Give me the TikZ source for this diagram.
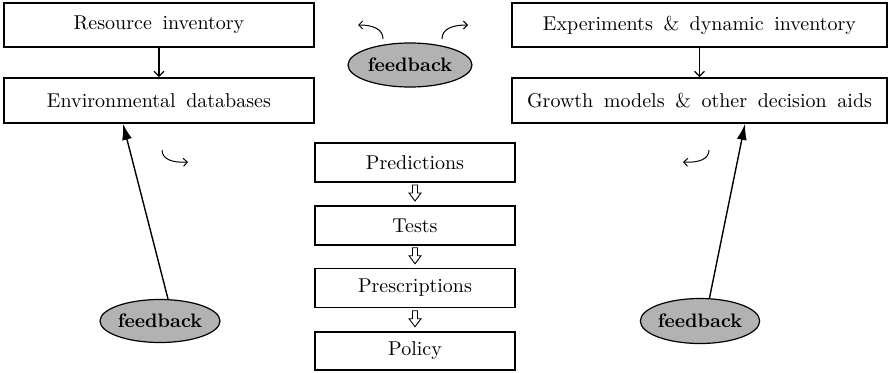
\documentclass[tikz,border=0pt]{standalone}
\usepackage{fontspec}
\setmainfont{lmroman10-regular.otf}[BoldFont=lmroman10-bold.otf,WordSpace=1.6]
\usepackage{tikz}
\usetikzlibrary{calc,positioning,arrows.meta,shapes.geometric}
\tikzstyle{line} = [line width=1.2pt]
\tikzstyle{line>} = [line,-{Straight Barb[length=5pt,width=10pt]}]
\tikzstyle{fb line>} = [line width=1.4pt,-{Latex[length=16pt,width=10pt]}]
\tikzstyle{small>} = [line width=1pt,-{Straight Barb[length=4pt,width=8pt]}]
\tikzstyle{box} = [draw,line width=1.7pt,inner sep=0pt,font=\fontsize{20}{23}\selectfont]
\tikzstyle{feedback} = [draw,ellipse,line width=1.2pt,fill=black!30,inner sep=0pt,font=\fontsize{19.5}{22}\selectfont\bfseries]
\tikzstyle{hollow} = [draw,line width=0.9pt,fill=white,line join=miter]

\begin{document}
\begin{tikzpicture}[x=1pt,y=-1pt]
        \useasboundingbox (0,0) rectangle (890,372);
        % top row of boxes
        \node[box,minimum width=310pt,minimum height=44pt] (res) at (159,25) {Resource inventory};
        \node[box,minimum width=310pt,minimum height=45pt] (env) at (159,100.5) {Environmental databases};
        \node[box,minimum width=375pt,minimum height=44pt] (exp) at (699.5,25) {Experiments \& dynamic inventory};
        \node[box,minimum width=375pt,minimum height=45pt] (growth) at (699.5,100.5) {Growth models \& other decision aids};
        \draw[line>] (res) -- (env);
        \draw[line>] (exp) -- (growth);

        % middle column
        \node[box,minimum width=200pt,minimum height=39pt] (pred) at (415,162.5) {Predictions};
        \node[box,minimum width=200pt,minimum height=39pt] (tests) at (415,225.5) {Tests};
        \node[box,minimum width=200pt,minimum height=39pt] (presc) at (415,288) {Prescriptions};
        \node[box,minimum width=200pt,minimum height=38pt] (policy) at (415,351) {Policy};
        % hollow arrows between them
        \foreach \a/\b in {pred/tests,tests/presc,presc/policy} {
        	\draw[hollow] ($(\a.south)!0.5!(\b.north)$) ++(-2.5,-9) -- ++(0,8) -- ++(-3.5,0) -- ++(6,8)
        	  -- ++(6,-8) -- ++(-3.5,0) -- ++(0,-8) -- cycle;
        }

        % feedback ellipses
        \node[feedback,minimum width=124pt,minimum height=44pt] (fbtop) at (410,65) {feedback};
        \node[feedback,minimum width=120pt,minimum height=43pt] (fbleft) at (160,321) {feedback};
        \node[feedback,minimum width=117pt,minimum height=45pt] (fbright) at (700,321) {feedback};
        \draw[fb line>] ([xshift=8pt]fbleft.north) -- ([xshift=-36pt]env.south);
        \draw[fb line>] ([xshift=9.5pt]fbright.north) -- ([xshift=45.5pt]growth.south);

        % small curved arrows
        \coordinate (tl) at (383,39);
        \coordinate (tr) at (442,39);
        \coordinate (ml) at (162,150);
        \coordinate (mr) at (709,150);
        \draw[small>] (tl) .. controls (383,29) and (373,25) .. (358,25);
        \draw[small>] (tr) .. controls (442,29) and (452,25) .. (468,25);
        \draw[small>] (ml) .. controls (162,159) and (172,163) .. (188,162);
        \draw[small>] (mr) .. controls (709,159) and (699,163) .. (683,162);
    \end{tikzpicture}
\end{document}
